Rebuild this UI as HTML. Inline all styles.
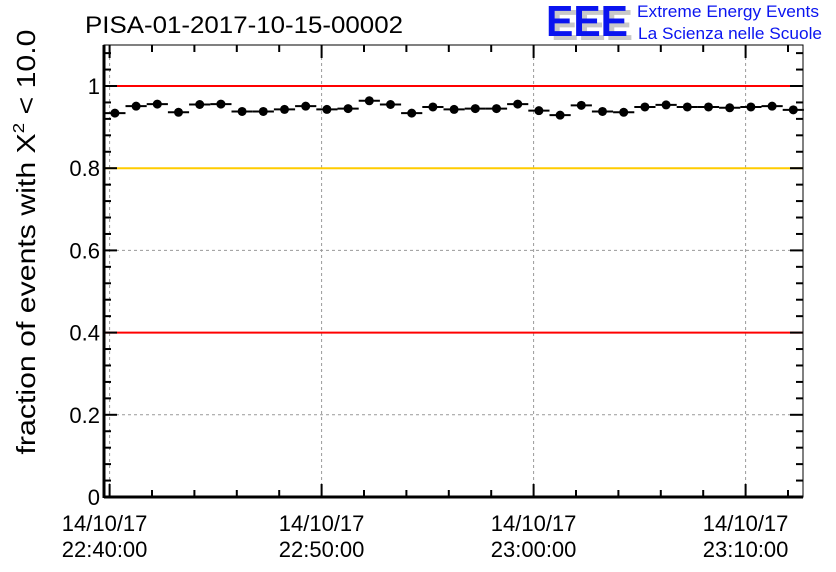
<!DOCTYPE html>
<html><head><meta charset="utf-8"><style>
body{margin:0;background:#fff;}
svg{display:block;font-family:"Liberation Sans",sans-serif;}
</style></head><body>
<svg id="chart" width="836" height="572" viewBox="0 0 836 572">
<text x="85" y="33" font-size="24" textLength="318" lengthAdjust="spacingAndGlyphs">PISA-01-2017-10-15-00002</text>
<g>
<text x="551" y="40" font-size="44" font-weight="bold" fill="#c8c8c8" textLength="82" lengthAdjust="spacingAndGlyphs">EEE</text>
<text x="546" y="36" font-size="44" font-weight="bold" fill="#0a14f0" textLength="82" lengthAdjust="spacingAndGlyphs">EEE</text>
<text x="637" y="17" font-size="16.5" fill="#0a14f0" textLength="182" lengthAdjust="spacingAndGlyphs">Extreme Energy Events</text>
<text x="638" y="39" font-size="16.5" fill="#0a14f0" textLength="184" lengthAdjust="spacingAndGlyphs">La Scienza nelle Scuole</text>
</g>
<text transform="translate(35,242) rotate(-90)" text-anchor="middle" font-size="26" textLength="425" lengthAdjust="spacingAndGlyphs">fraction of events with Χ<tspan dy="-11" font-size="16">2</tspan><tspan dy="11"> &lt; 10.0</tspan></text>
<g id="grid"></g><g id="refs"></g><g id="marks"></g><g id="axes"></g>
</svg>
<script>
const yTicks=[0,0.2,0.4,0.6,0.8,1];
const yTickLabels=["0","0.2","0.4","0.6","0.8","1"];
const xTickMinutes=[0,10,20,30];
const xTickDates=["14/10/17","14/10/17","14/10/17","14/10/17"];
const xTickTimes=["22:40:00","22:50:00","23:00:00","23:10:00"];
const binMinutes=[0,1,2,3,4,5,6,7,8,9,10,11,12,13,14,15,16,17,18,19,20,21,22,23,24,25,26,27,28,29,30,31,32];
const fractions=[0.934,0.951,0.956,0.936,0.955,0.956,0.938,0.938,0.943,0.951,0.943,0.945,0.964,0.955,0.934,0.949,0.943,0.945,0.945,0.956,0.940,0.929,0.953,0.938,0.936,0.949,0.954,0.949,0.949,0.947,0.949,0.951,0.942];
const refLines=[1.0,0.8,0.4];
const refColors=["#ff0000","#ffcc00","#ff0000"];
const NS="http://www.w3.org/2000/svg";
const L=104,R=803,T=45,B=497,X0=109.6,PXM=21.2;
const xs=m=>X0+m*PXM;
const ys=v=>B-v*411;
function mk(tag,attrs,parent){const e=document.createElementNS(NS,tag);for(const k in attrs)e.setAttribute(k,attrs[k]);document.getElementById(parent).appendChild(e);return e;}
xTickMinutes.forEach(m=>{
const g=mk('line',{x1:xs(m),x2:xs(m),y1:T,y2:B,stroke:'#999','stroke-dasharray':'3,3'},'grid');


});
yTicks.forEach(v=>{
const g=mk('line',{x1:L,x2:R,y1:ys(v),y2:ys(v),stroke:'#999','stroke-dasharray':'3,3'},'grid');


});
refLines.forEach((v,i)=>{
const l=mk('line',{x1:L,x2:R,y1:ys(v),y2:ys(v),stroke:refColors[i],'stroke-width':2},'refs');


});
binMinutes.forEach((m,i)=>{
const c=m+0.25,v=fractions[i];
const h=mk('line',{x1:xs(c-0.5),x2:xs(c+0.5),y1:ys(v),y2:ys(v),stroke:'#000','stroke-width':2},'marks');


const p=mk('circle',{cx:xs(c),cy:ys(v),r:4.5,fill:'#000'},'marks');


});
const fr=mk('rect',{x:L,y:T,width:R-L,height:B-T,fill:'none',stroke:'#000','stroke-width':1},'axes');


mk('line',{x1:L,x2:L,y1:T,y2:B+1,stroke:'#000','stroke-width':3},'axes');
mk('line',{x1:L,x2:R,y1:B,y2:B,stroke:'#000','stroke-width':3},'axes');
for(let v=0;v<=1.1001;v+=0.04){
const major=Math.abs(v/0.2-Math.round(v/0.2))<1e-6;const len=major?13:7;
mk('line',{x1:L,x2:L+len,y1:ys(v),y2:ys(v),stroke:'#000','stroke-width':2},'axes');
mk('line',{x1:R,x2:R-len,y1:ys(v),y2:ys(v),stroke:'#000','stroke-width':2},'axes');
}
for(let m=0;m<=32;m+=2){
const major=m%10===0;const len=major?13:7;
mk('line',{x1:xs(m),x2:xs(m),y1:B,y2:B-len,stroke:'#000','stroke-width':2},'axes');
mk('line',{x1:xs(m),x2:xs(m),y1:T,y2:T+len,stroke:'#000','stroke-width':2},'axes');
}
yTicks.forEach((v,i)=>{
const t=mk('text',{x:100,y:ys(v)+8,'text-anchor':'end','font-size':22},'axes');
t.textContent=yTickLabels[i];


});
xTickMinutes.forEach((m,i)=>{
const cx=i===0?xs(m)-5:xs(m);
const a=mk('text',{x:cx,y:531,'text-anchor':'middle','font-size':22},'axes');
a.textContent=xTickDates[i];


const b=mk('text',{x:cx,y:557,'text-anchor':'middle','font-size':22},'axes');
b.textContent=xTickTimes[i];


});
</script>
</body></html>
